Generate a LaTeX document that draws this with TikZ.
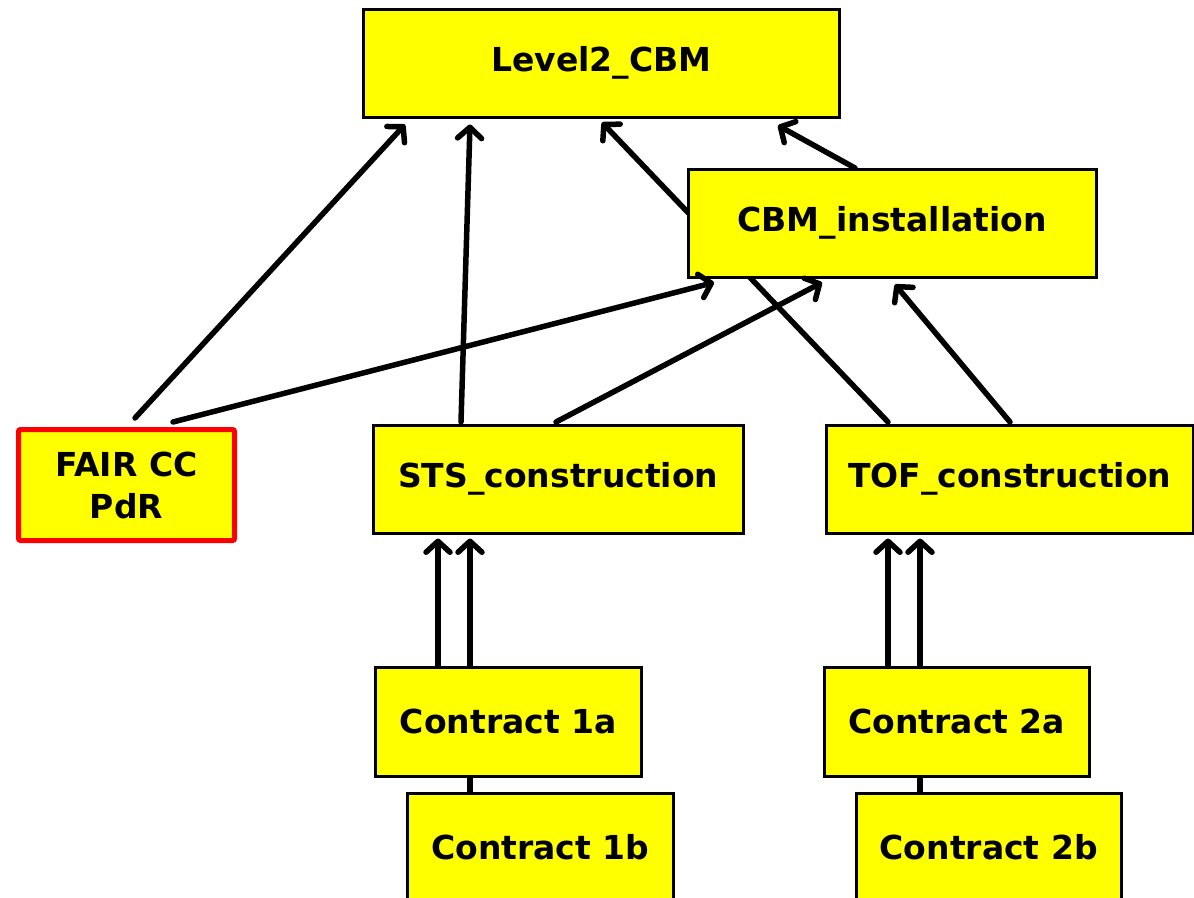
\documentclass[tikz,border=0pt]{standalone}
\usepackage{fontspec}
\setmainfont{DejaVu Sans}
\usetikzlibrary{arrows.meta,calc}
\pgfdeclarelayer{bg}
\pgfsetlayers{bg,main}
\definecolor{boxyellow}{RGB}{255,255,0}
\begin{document}
\begin{tikzpicture}[x=1pt,y=-1pt,
  box/.style={draw=black,line width=2.5pt,fill=boxyellow,inner sep=0pt,anchor=north west,
    font=\bfseries\fontsize{33}{42}\selectfont,align=center},
  redbox/.style={box,draw=red,line width=5pt,rounded corners=2pt},
  arr/.style={line width=5.5pt,line cap=round,-{Straight Barb[length=11pt,width=24pt,line width=5.5pt,line cap=round,line join=round]}},
  lnk/.style={line width=5.5pt}]
\useasboundingbox (0,0) rectangle (1194,897);
\clip (0,0) rectangle (1194,897);
\node[box,minimum width=476pt,minimum height=108pt] (lvl) at (362,8) {Level2\_CBM};
\node[box,minimum width=408pt,minimum height=108pt] (cbm) at (687,168) {CBM\_installation};
\node[redbox,minimum width=216pt,minimum height=111pt] (fair) at (16,427) {FAIR CC\\PdR};
\node[box,minimum width=370pt,minimum height=108pt] (sts) at (372,424) {STS\_construction};
\node[box,minimum width=367pt,minimum height=108pt] (tof) at (825,424) {TOF\_construction};
\node[box,minimum width=266pt,minimum height=109pt] (c1a) at (374,666) {Contract 1a};
\node[box,minimum width=266pt,minimum height=108pt] (c1b) at (406,792) {Contract 1b};
\node[box,minimum width=265pt,minimum height=109pt] (c2a) at (823,666) {Contract 2a};
\node[box,minimum width=265pt,minimum height=108pt] (c2b) at (855,792) {Contract 2b};
\begin{pgfonlayer}{bg}
\draw[arr] ($(tof.north west)+(63,-2)$) -- ($(lvl.south west)+(240,4)$);
\end{pgfonlayer}
\draw[arr] ($(fair.north west)+(119,-9)$) -- ($(lvl.south west)+(43,6)$);
\draw[arr] ($(fair.north west)+(157,-5)$) -- ($(cbm.south west)+(27,4)$);
\draw[arr] ($(sts.north west)+(89,-2)$) -- ($(lvl.south west)+(108,6)$);
\draw[arr] ($(sts.north west)+(184,-2)$) -- ($(cbm.south west)+(135,4)$);
\draw[arr] ($(tof.north west)+(185,-2)$) -- ($(cbm.south west)+(208,6)$);
\draw[arr] ($(cbm.north west)+(168,0)$) -- ($(lvl.south west)+(416,7)$);
\draw[arr] ($(c1a.north west)+(64,0)$) -- ($(sts.south west)+(66,4)$);
\draw[arr] ($(c1a.north west)+(96,0)$) -- ($(sts.south west)+(98,4)$);
\draw[arr] ($(c2a.north west)+(65,0)$) -- ($(tof.south west)+(63,4)$);
\draw[arr] ($(c2a.north west)+(97,0)$) -- ($(tof.south west)+(95,4)$);
\draw[lnk] ($(c1b.north west)+(64,0)$) -- ($(c1a.south west)+(96,0)$);
\draw[lnk] ($(c2b.north west)+(65,0)$) -- ($(c2a.south west)+(97,0)$);
\end{tikzpicture}
\end{document}
